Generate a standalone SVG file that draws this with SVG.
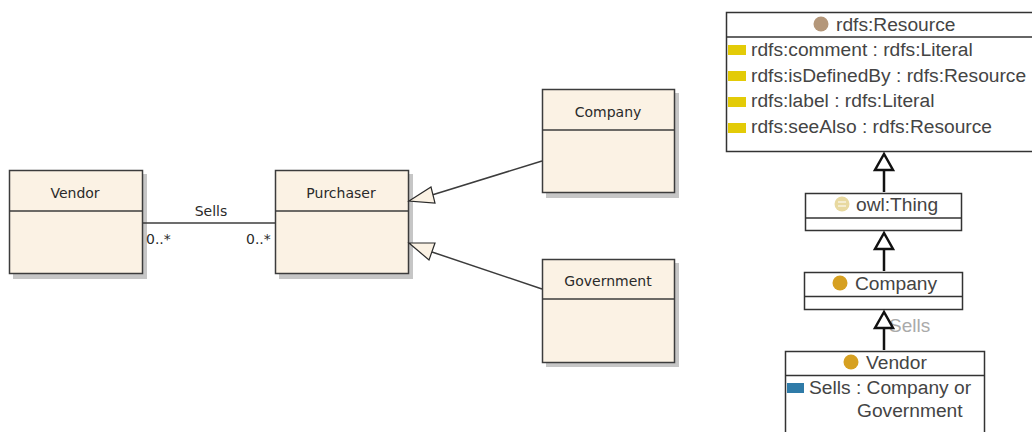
<svg xmlns="http://www.w3.org/2000/svg" width="1032" height="432" viewBox="0 0 1032 432">
<style>
.box{fill:#fbf2e4;stroke:#3c3c3c;stroke-width:1.5}
.shadow{fill:#c6c6c6}
.div{stroke:#3c3c3c;stroke-width:1.5;fill:none}
.uml{font-family:"DejaVu Sans",sans-serif;font-size:14px;fill:#2a2a2a}
.mid{text-anchor:middle}
.line{stroke:#3c3c3c;stroke-width:1.5;fill:none}
.gen{fill:#fbf2e4;stroke:#2a2a2a;stroke-width:1.2}
.owl{fill:#fff;stroke:#333;stroke-width:1.5}
.txt{font-family:"Liberation Sans",Arial,sans-serif;font-size:19.2px;fill:#444}
.prop{fill:#e3cb07}
.arrow{fill:#fff;stroke:#111;stroke-width:2.5}
.stem{stroke:#111;stroke-width:2.5;fill:none}
</style>
<g id="vendor-uml">
<rect class="shadow" x="13" y="174" width="134" height="105"/>
<rect class="box" x="9.500" y="170.500" width="133" height="103"/>
<path class="div" d="M9.500 211H142.500"/>
<text class="uml mid" x="75" y="198">Vendor</text>
</g>
<g id="purchaser-uml">
<rect class="shadow" x="279" y="174" width="134" height="105"/>
<rect class="box" x="275.500" y="170.500" width="133" height="103"/>
<path class="div" d="M275.500 211H408.500"/>
<text class="uml mid" x="341" y="198">Purchaser</text>
</g>
<g id="company-uml">
<rect class="shadow" x="546" y="93" width="133" height="105"/>
<rect class="box" x="542.500" y="89.500" width="132" height="103"/>
<path class="div" d="M542.500 130H674.500"/>
<text class="uml mid" x="608" y="117">Company</text>
</g>
<g id="government-uml">
<rect class="shadow" x="546" y="263" width="133" height="104"/>
<rect class="box" x="542.500" y="259.500" width="132" height="103"/>
<path class="div" d="M542.500 299H674.500"/>
<text class="uml mid" x="608" y="286">Government</text>
</g>
<g id="rdfs-resource">
<rect class="owl" x="726.500" y="12.500" width="320" height="139"/>
<path class="owl" d="M726.500 37H1046"/>
<circle cx="821" cy="24" r="7.500" fill="#b4977a"/>
<text class="txt" x="836" y="31">rdfs:Resource</text>
<rect class="prop" x="728" y="45" width="18" height="10"/>
<text class="txt" x="751" y="56">rdfs:comment : rdfs:Literal</text>
<rect class="prop" x="728" y="71" width="18" height="10"/>
<text class="txt" x="751" y="82">rdfs:isDefinedBy : rdfs:Resource</text>
<rect class="prop" x="728" y="97" width="18" height="10"/>
<text class="txt" x="751" y="107">rdfs:label : rdfs:Literal</text>
<rect class="prop" x="728" y="123" width="18" height="10"/>
<text class="txt" x="751" y="133">rdfs:seeAlso : rdfs:Resource</text>
</g>
<g id="owl-thing">
<rect class="owl" x="805.500" y="193.500" width="156" height="37"/>
<path class="owl" d="M805.500 218H961.500"/>
<circle cx="842" cy="204" r="7.500" fill="#e8d9a0"/>
<path d="M838 202H846M838 206H846" stroke="#fff" stroke-width="1.2"/>
<text class="txt" x="856" y="211">owl:Thing</text>
</g>
<g id="company-owl">
<rect class="owl" x="804.500" y="272.500" width="158" height="37"/>
<path class="owl" d="M804.500 296.500H962.500"/>
<circle cx="840" cy="283" r="7.500" fill="#d6a021"/>
<text class="txt" x="855" y="290">Company</text>
</g>
<text id="sells-gray" x="889" y="332" font-family="'Liberation Sans',Arial,sans-serif" font-size="19px" fill="#aaa">Sells</text>
<g id="vendor-owl">
<rect class="owl" x="785.500" y="351.500" width="199" height="90"/>
<path class="owl" d="M785.500 375.500H984.500"/>
<circle cx="851" cy="362" r="7.500" fill="#d6a021"/>
<text class="txt" x="866" y="369">Vendor</text>
<rect x="787" y="383" width="17" height="10" fill="#2f7ba8"/>
<text class="txt" x="809" y="394">Sells : Company or</text>
<text class="txt" x="857" y="417">Government</text>
</g>
<g id="connectors">
<path class="line" d="M142 223H275"/>
<path class="line" d="M542 161L432 195"/>
<path class="gen" d="M409 201L431 187L435 203Z"/>
<path class="line" d="M542 289L432 252"/>
<path class="gen" d="M409 243L435 243L429 260Z"/>
<path class="stem" d="M884 170V192M884 249V271M884 328V350"/>
<path class="arrow" d="M884 154L875 170H893Z"/>
<path class="arrow" d="M884 233L875 249H893Z"/>
<path class="arrow" d="M884 312L875 328H893Z"/>
</g>
<g id="sells-labels">
<text class="uml mid" x="211" y="216">Sells</text>
<text class="uml" x="146" y="244">0..*</text>
<text class="uml" x="246" y="244">0..*</text>
</g>
</svg>
